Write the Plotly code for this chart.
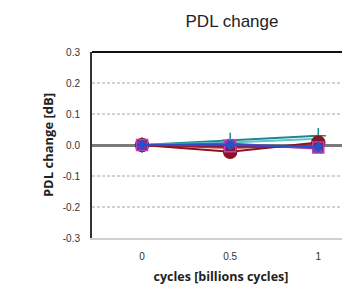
import plotly.graph_objects as go

cycles = [0, 0.5, 1]
s_teal = [0, 0.015, 0.03]
s_cyan = [0, 0.008, 0.02]
s_maroon = [0, -0.022, 0.008]
s_red = [0, -0.01, 0.0]
s_purple = [0, 0.005, -0.012]
s_blue = [0, 0.0, -0.006]
s_square = [0, -0.004, -0.008]

series = [
    ("teal", s_teal, "#1a8a8a", "cross-thin", 11),
    ("cyan", s_cyan, "#5cc6d0", "circle", 5),
    ("red", s_red, "#c0302a", "circle", 4),
    ("maroon", s_maroon, "#8b1420", "circle", 13),
    ("square", s_square, "#8b1a3a", "square", 11),
    ("purple", s_purple, "#8a3fb0", "x", 7),
    ("blue", s_blue, "#2a4fc8", "diamond", 7),
]

fig = go.Figure()
for name, vals, col, sym, sz in series:
    fig.add_trace(go.Scatter(
        x=cycles, y=vals, mode="lines+markers", name=name,
        line=dict(color=col, width=2),
        marker=dict(symbol=sym, size=sz, color=col,
                    line=dict(color="#c040c0" if sym == "square" else col,
                              width=1.5)),
        showlegend=False))

fig.update_layout(
    width=342, height=283,
    margin=dict(l=84, r=0, t=44, b=53),
    plot_bgcolor="white", paper_bgcolor="white",
    title=dict(text="PDL change", x=0.655, xanchor="center", y=0.955, yanchor="middle",
               font=dict(family="Liberation Sans, Arial", size=17, color="#222")),
    xaxis=dict(range=[-0.284, 1.18], tickvals=[0, 0.5, 1], ticktext=["0", "0.5", "1"],
               showgrid=False, zeroline=False, showline=True, linecolor="#d0d0d0", linewidth=2,
               tickfont=dict(family="Liberation Sans, Arial", size=10, color="#333"),
               ticks="", ticklabelstandoff=8,
               title=dict(text="<b>cycles [billions cycles]</b>", standoff=11,
                          font=dict(family="Open Sans, Lato", size=12.5, color="#222"))),
    yaxis=dict(range=[-0.3, 0.3], tickvals=[-0.3, -0.2, -0.1, 0, 0.1, 0.2, 0.3],
               ticktext=["-0.3", "-0.2", "-0.1", "0.0", "0.1", "0.2", "0.3"],
               showgrid=True, gridcolor="#d2d2d2", griddash="3px,2px", gridwidth=2,
               zeroline=True, zerolinecolor="#7a7a7a", zerolinewidth=2.5,
               showline=True, linecolor="#333333", linewidth=2,
               tickfont=dict(family="Liberation Sans, Arial", size=10, color="#333"),
               ticks="", ticklabelstandoff=8,
               title=dict(text="<b>PDL change [dB]</b>", standoff=6,
                          font=dict(family="Open Sans, Lato", size=13, color="#222"))),
    shapes=[dict(type="line", xref="paper", yref="paper", x0=0, x1=1, y0=1, y1=1,
                 line=dict(color="#111111", width=2))],
)

fig.write_html("out.html")
